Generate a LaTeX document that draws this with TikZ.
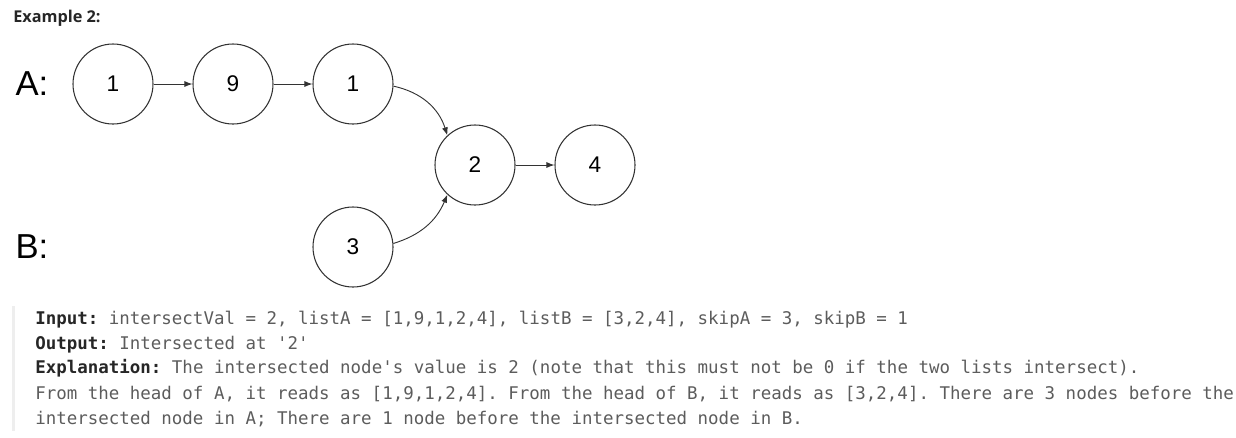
\documentclass[tikz,border=0pt]{standalone}
\usepackage{fontspec}
\setmainfont{Liberation Sans}
\setmonofont{DejaVu Sans Mono}
\newfontfamily\titlefont{Open Sans}
\usepackage{tikz}
\usetikzlibrary{arrows.meta}
\tikzset{>=latex}
\usetikzlibrary{calc}

\definecolor{ringgray}{HTML}{333333}
\definecolor{codetext}{HTML}{5C5C5C}
\definecolor{codebold}{HTML}{262626}
\definecolor{barfill}{HTML}{EEEEEE}

\tikzset{
  listnode/.style={circle, draw=ringgray, line width=0.8pt, minimum size=60pt,
    inner sep=0pt, font=\fontsize{17}{20}\selectfont},
  link/.style={draw=ringgray, line width=0.7pt, -{Latex[length=6pt,width=4.5pt]}},
  codeline/.style={anchor=base west, inner sep=0pt, text=codetext,
    font=\ttfamily\fontsize{13.1}{16}\selectfont}
}

\begin{document}
\begin{tikzpicture}[x=0.75pt, y=-0.75pt]
    \useasboundingbox (0,0) rectangle (1236,437);

    \node[anchor=base west, inner sep=0pt, text=codebold, font=\titlefont\bfseries\fontsize{12.2}{14}\selectfont] (title) at (13,22) {Example 2:};

    \node[font=\fontsize{26}{30}\selectfont] (labA) at (32,84) {A:};
    \node[font=\fontsize{26}{30}\selectfont] (labB) at (32,247) {B:};

    \node[listnode] (a1) at (113,84) {1};
    \node[listnode] (a2) at (233,84) {9};
    \node[listnode] (a3) at (353,84) {1};
    \node[listnode] (c1) at (475,165) {2};
    \node[listnode] (c2) at (595,165) {4};
    \node[listnode] (b1) at (353,247) {3};

    \draw[link] (a1) -- (a2);
    \draw[link] (a2) -- (a3);
    \draw[link] (c1) -- (c2);
    \draw[link] (a3.-3) to[bend left=30] (c1.133);
    \draw[link] (b1.5) to[bend right=25] (c1.227);

    % code block
    \fill[barfill] (11.5,306) rectangle (14.5,431);
    \begin{scope}[every node/.style={codeline}]
      \node (l1) at (35,324) {\textcolor{codebold}{\bfseries Input:} intersectVal = 2, listA = [1,9,1,2,4], listB = [3,2,4], skipA = 3, skipB = 1};
      \node (l2) at (35,349) {\textcolor{codebold}{\bfseries Output:} Intersected at '2'};
      \node (l3) at (35,373) {\textcolor{codebold}{\bfseries Explanation:} The intersected node's value is 2 (note that this must not be 0 if the two lists intersect).};
      \node (l4) at (35,399) {From the head of A, it reads as [1,9,1,2,4]. From the head of B, it reads as [3,2,4]. There are 3 nodes before the};
      \node (l5) at (35,424) {intersected node in A; There are 1 node before the intersected node in B.};
    \end{scope}
  \end{tikzpicture}
\end{document}
